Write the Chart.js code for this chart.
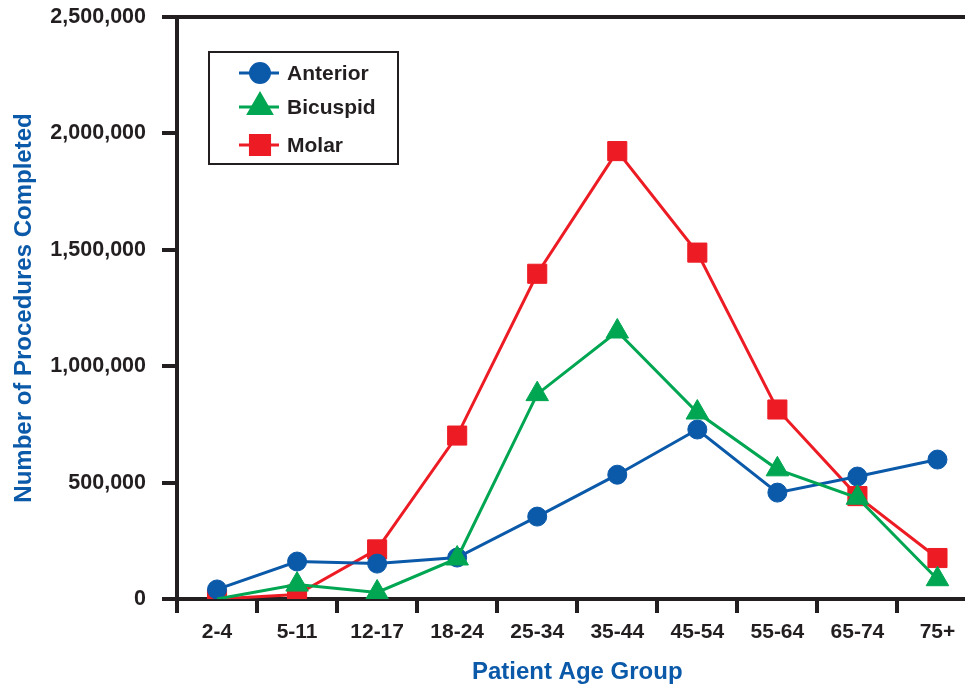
<!DOCTYPE html>
<html>
<head>
<meta charset="utf-8">
<script src="https://cdn.jsdelivr.net/npm/chart.js@4"></script>
<style>
  html, body { margin: 0; padding: 0; background: #fff; overflow: hidden; }
  #wrap { width: 992px; height: 690px; }
</style>
</head>
<body>
<div id="wrap"><canvas id="js-canvas" width="992" height="690"></canvas></div>
<script>
const canvas = document.getElementById('js-canvas')

// Data
const ageGroups = ['2-4', '5-11', '12-17', '18-24', '25-34', '35-44', '45-54', '55-64', '65-74', '75+']
const anterior = [41000, 161000, 152000, 178000, 354000, 534000, 728000, 457000, 526000, 599000]
const bicuspid = [0, 62000, 28000, 174000, 880000, 1149000, 801000, 557000, 435000, 85000]
const molar = [0, 19000, 213000, 702000, 1397000, 1924000, 1488000, 814000, 442000, 176000]
const yTicks = [0, 500000, 1000000, 1500000, 2000000, 2500000]

const INK = '#231f20'
const BLUE = '#0b59a9'
const GREEN = '#00a651'
const RED = '#ed1c24'
const FONT = "'Liberation Sans', Arial, Helvetica, sans-serif"

// Legend drawn as a boxed panel inside the plot
const boxLegend = {
	id: 'boxLegend',
	afterDraw(chart) {
		const ctx = chart.ctx
		const area = chart.chartArea
		const x0 = area.left + 32, y0 = area.top + 35
		ctx.save()
		ctx.lineWidth = 2
		ctx.strokeStyle = INK
		ctx.strokeRect(x0, y0, 189, 112)
		const rows = [21, 55, 93]
		chart.data.datasets.forEach((ds, i) => {
			const y = y0 + rows[i]
			ctx.strokeStyle = ds.borderColor
			ctx.lineWidth = 3
			ctx.beginPath()
			ctx.moveTo(x0 + 30, y)
			ctx.lineTo(x0 + 70, y)
			ctx.stroke()
			ctx.fillStyle = ds.backgroundColor
			ctx.strokeStyle = ds.borderColor
			Chart.helpers.drawPoint(ctx, {
				pointStyle: ds.pointStyle,
				radius: ds.legendRadius,
				rotation: 0,
				borderWidth: 1
			}, x0 + 51, y)
			ctx.fillStyle = INK
			ctx.font = 'bold 21px ' + FONT
			ctx.textBaseline = 'middle'
			ctx.textAlign = 'left'
			ctx.fillText(ds.label, x0 + 78, y + 1)
		})
		ctx.restore()
	}
}

const chart = new Chart(canvas, {
	type: 'line',
	data: {
		labels: ageGroups,
		datasets: [
			{
				label: 'Anterior',
				data: anterior,
				borderColor: BLUE,
				backgroundColor: BLUE,
				pointStyle: 'circle',
				pointRadius: 9.5,
				legendRadius: 9.5,
				order: 1
			},
			{
				label: 'Bicuspid',
				data: bicuspid,
				borderColor: GREEN,
				backgroundColor: GREEN,
				pointStyle: 'triangle',
				// no marker drawn for the first group in the original
				pointRadius: bicuspid.map((v, i) => i === 0 ? 0 : 13),
				legendRadius: 13,
				order: 0
			},
			{
				label: 'Molar',
				data: molar,
				borderColor: RED,
				backgroundColor: RED,
				pointStyle: 'rect',
				pointRadius: 13.5,
				legendRadius: 13.5,
				order: 2
			}
		]
	},
	options: {
		responsive: false,
		animation: false,
		layout: { padding: { top: 17, right: 4, left: 0, bottom: 0 } },
		elements: {
			line: { borderWidth: 3, tension: 0 },
			point: { borderWidth: 1, hoverRadius: 10 }
		},
		plugins: {
			legend: { display: false },
			tooltip: { enabled: false }
		},
		scales: {
			x: {
				offset: true,
				grid: {
					offset: true,
					drawOnChartArea: false,
					color: INK,
					lineWidth: 4,
					tickLength: 14
				},
				border: { color: INK, width: 4 },
				ticks: {
					color: INK,
					font: { family: FONT, size: 21, weight: 'bold' },
					padding: 7,
					maxRotation: 0
				},
				title: {
					display: true,
					text: 'Patient Age Group',
					color: BLUE,
					font: { family: FONT, size: 24, weight: 'bold' },
					padding: { top: 0, bottom: 3 }
				},
				afterFit(scale) { scale.height = 91 }
			},
			y: {
				min: 0,
				max: 2500000,
				afterBuildTicks(scale) { scale.ticks = yTicks.map(v => ({ value: v })) },
				grid: {
					// only the top line runs across the plot
					color: ctx => ctx.tick && ctx.tick.value === 2500000 ? INK : 'rgba(0,0,0,0)',
					tickColor: INK,
					lineWidth: 4,
					tickLength: 15
				},
				border: { color: INK, width: 4 },
				ticks: {
					color: INK,
					font: { family: FONT, size: 21.5, weight: 'bold' },
					padding: 16,
					callback: v => v.toLocaleString('en-US')
				},
				title: {
					display: true,
					text: 'Number of Procedures Completed',
					color: BLUE,
					font: { family: FONT, size: 24, weight: 'bold' },
					padding: { top: 10, bottom: 0 }
				},
				afterFit(scale) {
					scale.width = 177
					scale.paddingTop = 0
					scale.paddingBottom = 0
				}
			}
		}
	},
	plugins: [boxLegend]
})
</script>
</body>
</html>
